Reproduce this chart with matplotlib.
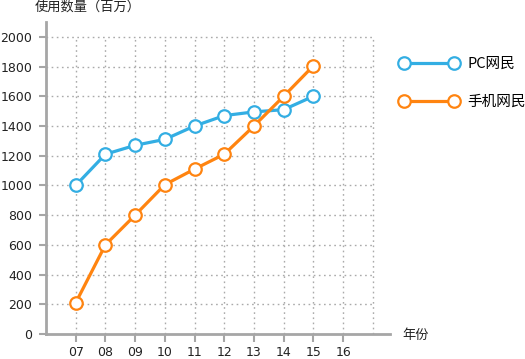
import matplotlib
matplotlib.use("Agg")
import matplotlib.pyplot as plt

plt.rcParams['font.family'] = ['Noto Sans CJK SC', 'DejaVu Sans']

years = ["07", "08", "09", "10", "11", "12", "13", "14", "15", "16"]
pc_users = [1000, 1210, 1270, 1310, 1400, 1470, 1495, 1510, 1600]
mobile_users = [210, 600, 800, 1005, 1110, 1210, 1400, 1600, 1805]
y_ticks = [0, 200, 400, 600, 800, 1000, 1200, 1400, 1600, 1800, 2000]

blue = "#33aee3"
orange = "#ff8410"
axis_gray = "#a6a6a6"

W, H = 525, 359
fig = plt.figure(figsize=(W / 100, H / 100), dpi=100)
ax = fig.add_axes([46 / W, 1 - 334 / H, (390 - 46) / W, (334 - 22) / H])

pos = list(range(1, len(years) + 1))
ax.set_xlim(0, 11.58)
ax.set_ylim(0, 2100)

for i in pos + [11]:
    ax.plot([i, i], [0, 2000], color="#aaaaaa", lw=1, ls=(0, (1.2, 2.5)), zorder=1)
for v in y_ticks[1:]:
    ax.plot([0, 11], [v, v], color="#aaaaaa", lw=1, ls=(0, (1.2, 2.5)), zorder=1)

ax.plot(pos[:len(pc_users)], pc_users, color=blue, lw=2.3, marker='o', ms=9,
        mfc='white', mec=blue, mew=1.6, label="PC网民", zorder=3)
ax.plot(pos[:len(mobile_users)], mobile_users, color=orange, lw=2.3, marker='o', ms=9,
        mfc='white', mec=orange, mew=1.6, label="手机网民", zorder=3)

ax.set_xticks(pos)
ax.set_xticklabels(years)
ax.set_yticks(y_ticks)
ax.tick_params(axis='x', length=6, width=1.5, color=axis_gray, pad=3, labelsize=9, labelcolor="#222222")
ax.tick_params(axis='y', length=5, width=1.5, color=axis_gray, pad=5, labelsize=9, labelcolor="#222222")
for lab in ax.get_xticklabels() + ax.get_yticklabels():
    lab.set_fontfamily('DejaVu Sans')

for s in ['top', 'right']:
    ax.spines[s].set_visible(False)
for s in ['left', 'bottom']:
    ax.spines[s].set_color(axis_gray)
    ax.spines[s].set_linewidth(2)

fig.text(35 / W, 1 - 7 / H, "使用数量（百万）", fontsize=9.5, va='center', ha='left', color="#222222")
fig.text(402 / W, 1 - 336 / H, "年份", fontsize=9.5, va='center', ha='left', color="#222222")

ax.legend(loc='upper left', bbox_to_anchor=(400 / W, 1 - 57 / H), bbox_transform=fig.transFigure,
          frameon=False, fontsize=10.5, numpoints=2, handlelength=4.0, labelspacing=1.65,
          handletextpad=0.6, borderaxespad=0, borderpad=0)

fig.savefig("out.png", dpi=100)
